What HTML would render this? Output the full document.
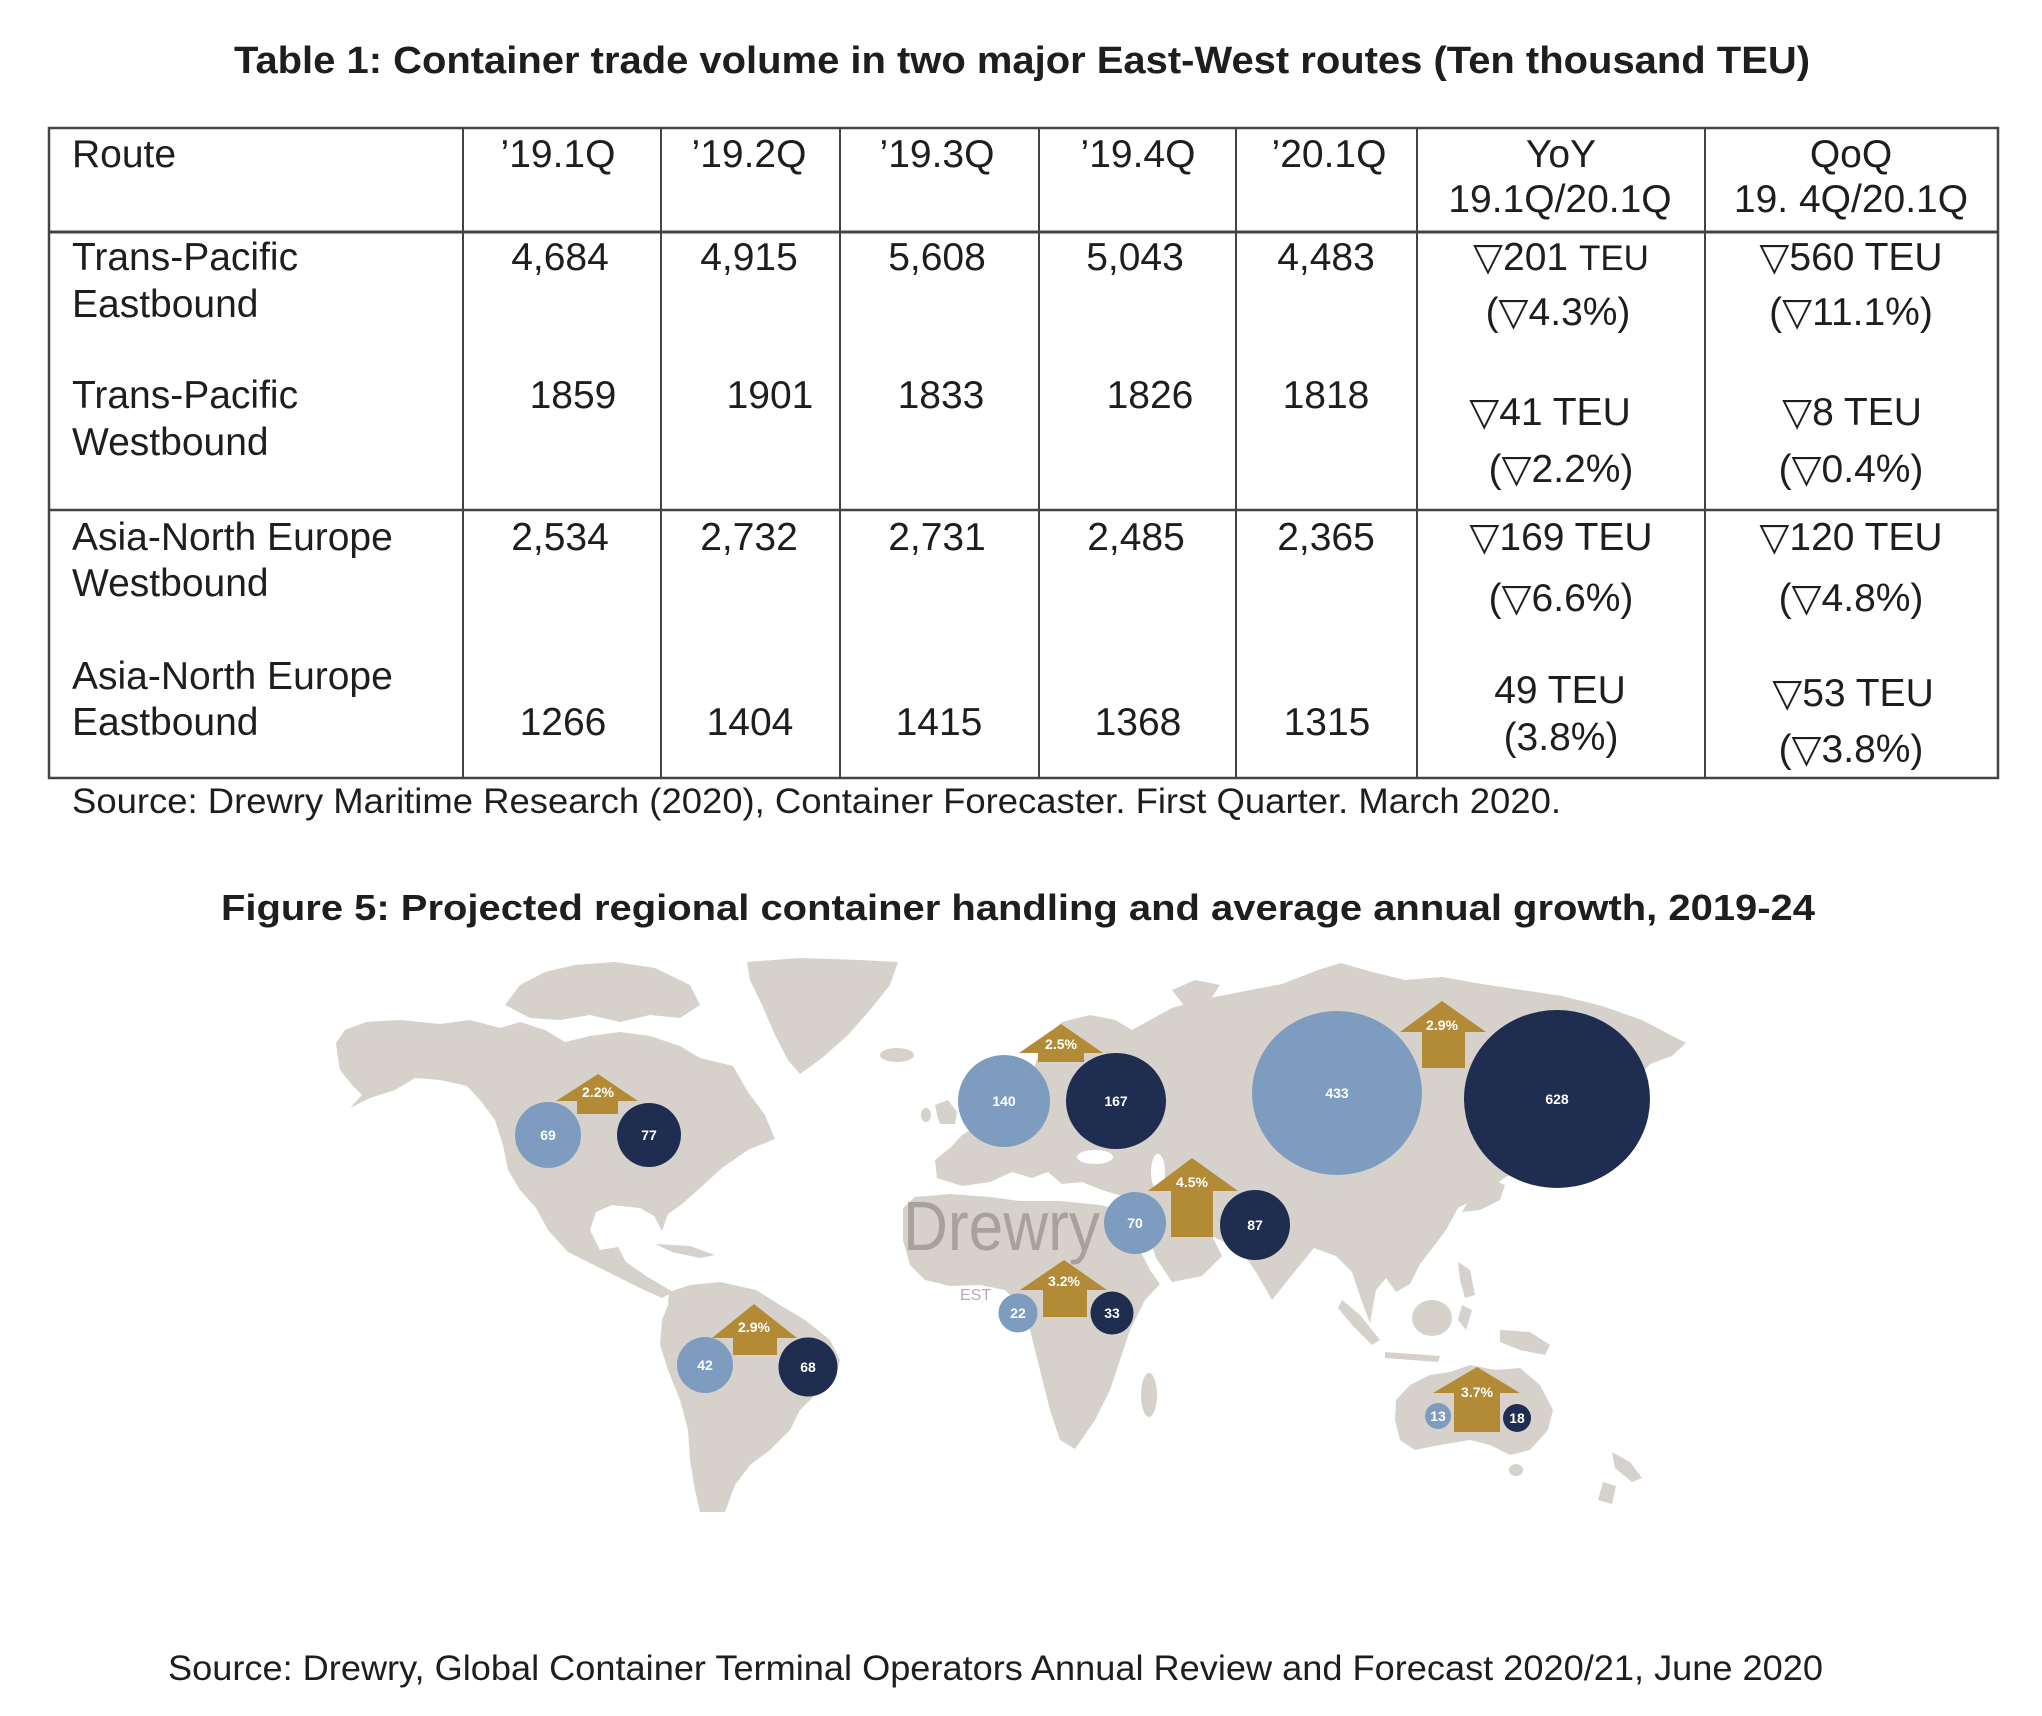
<!DOCTYPE html>
<html>
<head>
<meta charset="utf-8">
<style>
html,body{margin:0;padding:0;background:#fff;}
svg{display:block;}
.t{font-family:"Liberation Sans","DejaVu Sans",sans-serif;fill:#1e1e1e;}
.b{font-weight:bold;}
.c{text-anchor:middle;}
.tab{font-size:39px;}
.lbl{font-family:"Liberation Sans","DejaVu Sans",sans-serif;font-weight:bold;font-size:14px;fill:#fff;text-anchor:middle;}
</style>
</head>
<body>
<svg width="2042" height="1716" viewBox="0 0 2042 1716" xmlns="http://www.w3.org/2000/svg">
<rect width="2042" height="1716" fill="#fff"/>

<!-- Title -->
<text class="t b" x="234" y="73" font-size="38" textLength="1576" lengthAdjust="spacingAndGlyphs">Table 1: Container trade volume in two major East-West routes (Ten thousand TEU)</text>

<!-- Table lines -->
<g stroke="#444" fill="none">
<rect x="49" y="128" width="1949" height="650" stroke-width="2.5"/>
<line x1="49" y1="232" x2="1998" y2="232" stroke-width="3"/>
<line x1="49" y1="510" x2="1998" y2="510" stroke-width="2.5"/>
<g stroke-width="2">
<line x1="463" y1="128" x2="463" y2="778"/>
<line x1="661" y1="128" x2="661" y2="778"/>
<line x1="840" y1="128" x2="840" y2="778"/>
<line x1="1039" y1="128" x2="1039" y2="778"/>
<line x1="1236" y1="128" x2="1236" y2="778"/>
<line x1="1417" y1="128" x2="1417" y2="778"/>
<line x1="1705" y1="128" x2="1705" y2="778"/>
</g>
</g>

<g class="t tab">
<!-- header -->
<text x="72" y="167">Route</text>
<text class="c" x="558" y="167">’19.1Q</text>
<text class="c" x="749" y="167">’19.2Q</text>
<text class="c" x="937" y="167">’19.3Q</text>
<text class="c" x="1138" y="167">’19.4Q</text>
<text class="c" x="1329" y="167">’20.1Q</text>
<text class="c" x="1561" y="167">YoY</text>
<text class="c" x="1560" y="212">19.1Q/20.1Q</text>
<text class="c" x="1851" y="167">QoQ</text>
<text class="c" x="1851" y="212">19. 4Q/20.1Q</text>

<!-- row 1a -->
<text x="72" y="270">Trans-Pacific</text>
<text x="72" y="317">Eastbound</text>
<text class="c" x="560" y="270">4,684</text>
<text class="c" x="749" y="270">4,915</text>
<text class="c" x="937" y="270">5,608</text>
<text class="c" x="1135" y="270">5,043</text>
<text class="c" x="1326" y="270">4,483</text>
<text class="c" x="1561" y="270">▽201 <tspan font-size="35">TEU</tspan></text>
<text class="c" x="1558" y="325">(▽4.3%)</text>
<text class="c" x="1851" y="270">▽560 TEU</text>
<text class="c" x="1851" y="325">(▽11.1%)</text>

<!-- row 1b -->
<text x="72" y="408">Trans-Pacific</text>
<text x="72" y="455">Westbound</text>
<text class="c" x="573" y="408">1859</text>
<text class="c" x="770" y="408">1901</text>
<text class="c" x="941" y="408">1833</text>
<text class="c" x="1150" y="408">1826</text>
<text class="c" x="1326" y="408">1818</text>
<text class="c" x="1550" y="425">▽41 TEU</text>
<text class="c" x="1561" y="482">(▽2.2%)</text>
<text class="c" x="1852" y="425">▽8 TEU</text>
<text class="c" x="1851" y="482">(▽0.4%)</text>

<!-- row 2a -->
<text x="72" y="550">Asia-North Europe</text>
<text x="72" y="596">Westbound</text>
<text class="c" x="560" y="550">2,534</text>
<text class="c" x="749" y="550">2,732</text>
<text class="c" x="937" y="550">2,731</text>
<text class="c" x="1136" y="550">2,485</text>
<text class="c" x="1326" y="550">2,365</text>
<text class="c" x="1561" y="550">▽169 TEU</text>
<text class="c" x="1561" y="611">(▽6.6%)</text>
<text class="c" x="1851" y="550">▽120 TEU</text>
<text class="c" x="1851" y="611">(▽4.8%)</text>

<!-- row 2b -->
<text x="72" y="689">Asia-North Europe</text>
<text x="72" y="735">Eastbound</text>
<text class="c" x="563" y="735">1266</text>
<text class="c" x="750" y="735">1404</text>
<text class="c" x="939" y="735">1415</text>
<text class="c" x="1138" y="735">1368</text>
<text class="c" x="1327" y="735">1315</text>
<text class="c" x="1560" y="703">49 TEU</text>
<text class="c" x="1561" y="750">(3.8%)</text>
<text class="c" x="1853" y="706">▽53 TEU</text>
<text class="c" x="1851" y="762">(▽3.8%)</text>
</g>

<text class="t" x="72" y="813" font-size="35" textLength="1489" lengthAdjust="spacingAndGlyphs">Source:  Drewry Maritime Research (2020), Container Forecaster.  First Quarter. March 2020.</text>

<text class="t b" x="221" y="920" font-size="36" textLength="1594" lengthAdjust="spacingAndGlyphs">Figure 5: Projected regional container handling and average annual growth, 2019-24</text>

<!-- MAP -->
<g fill="#d6d1ca">
<path d="M336,1043 L345,1030 L366,1022 L400,1020 L440,1024 L470,1020 L500,1028 L520,1022 L545,1030 L565,1042 L590,1036 L620,1032 L650,1036 L680,1046 L700,1058 L733,1066 L748,1092 L765,1115 L775,1139 L748,1150 L722,1168 L700,1188 L682,1204 L668,1214 L662,1231 L654,1216 L640,1208 L612,1205 L596,1212 L590,1230 L600,1250 L618,1247 L626,1262 L646,1276 L673,1292 L662,1298 L640,1288 L600,1268 L568,1252 L548,1230 L536,1208 L520,1190 L508,1170 L503,1145 L495,1120 L480,1100 L467,1086 L440,1080 L415,1078 L395,1090 L370,1098 L350,1108 L362,1095 L352,1085 L340,1070 L338,1058 Z"/>
<path d="M505,1005 L520,985 L545,972 L575,965 L615,962 L655,968 L690,985 L700,1005 L680,1018 L650,1015 L620,1022 L590,1015 L560,1020 L530,1018 Z"/>
<path d="M747,962 L800,958 L860,960 L898,962 L890,985 L870,1010 L848,1035 L822,1058 L800,1074 L788,1060 L775,1035 L762,1005 L750,980 Z"/>
<path d="M655,1244 L690,1246 L715,1255 L700,1258 L672,1252 Z"/>
<path d="M669,1292 L690,1285 L720,1282 L756,1290 L780,1305 L805,1320 L830,1340 L840,1360 L835,1380 L815,1395 L800,1410 L790,1430 L770,1450 L750,1465 L735,1485 L725,1512 L700,1512 L695,1490 L690,1460 L688,1430 L680,1400 L668,1370 L660,1345 L662,1320 L668,1305 Z"/>
<ellipse cx="897" cy="1055" rx="17" ry="7"/>
<path d="M935,1105 L948,1100 L957,1112 L955,1124 L940,1124 L937,1115 Z"/>
<ellipse cx="926" cy="1115" rx="5" ry="7"/>
<path d="M937,1178 L935,1160 L950,1148 L962,1135 L978,1125 L995,1112 L1012,1100 L1028,1085 L1036,1062 L1045,1038 L1062,1022 L1090,1015 L1115,1020 L1132,1030 L1150,1020 L1172,1008 L1200,1000 L1240,992 L1282,984 L1318,970 L1341,963 L1372,972 L1405,980 L1442,977 L1482,984 L1522,990 L1562,996 L1602,1006 L1642,1020 L1686,1043 L1672,1056 L1650,1064 L1636,1080 L1622,1108 L1608,1100 L1592,1120 L1562,1150 L1530,1165 L1504,1178 L1482,1195 L1458,1208 L1446,1230 L1434,1246 L1420,1264 L1410,1284 L1396,1292 L1386,1278 L1376,1290 L1370,1323 L1362,1302 L1352,1272 L1336,1256 L1314,1248 L1296,1270 L1272,1300 L1256,1272 L1242,1252 L1228,1244 L1212,1236 L1222,1256 L1202,1276 L1172,1282 L1156,1258 L1146,1228 L1136,1206 L1122,1196 L1102,1190 L1082,1182 L1062,1184 L1048,1172 L1032,1178 L1012,1172 L990,1182 L962,1186 Z"/>
<path d="M1172,990 L1195,980 L1220,985 L1210,1000 L1185,1007 Z"/>
<path d="M1490,1178 L1505,1185 L1500,1200 L1480,1210 L1462,1212 L1470,1198 Z"/>
<path d="M1342,1300 L1360,1315 L1380,1340 L1372,1345 L1352,1325 L1338,1308 Z"/>
<ellipse cx="1432" cy="1318" rx="20" ry="18"/>
<path d="M1385,1352 L1440,1356 L1438,1362 L1385,1358 Z"/>
<path d="M1462,1305 L1472,1310 L1466,1330 L1458,1320 Z"/>
<path d="M1458,1262 L1470,1270 L1475,1295 L1465,1298 L1460,1280 Z"/>
<path d="M1500,1330 L1530,1332 L1550,1345 L1545,1355 L1520,1350 L1500,1342 Z"/>
<path d="M903,1208 L915,1197 L950,1194 L990,1197 L1020,1201 L1060,1201 L1100,1205 L1120,1210 L1135,1240 L1150,1270 L1160,1284 L1145,1300 L1130,1330 L1120,1360 L1110,1390 L1095,1420 L1075,1449 L1060,1440 L1050,1410 L1040,1370 L1030,1330 L1020,1305 L1005,1290 L980,1285 L950,1286 L925,1280 L910,1265 L903,1240 Z"/>
<ellipse cx="1149" cy="1395" rx="8" ry="22"/>
<path d="M1396,1400 L1410,1385 L1430,1375 L1450,1372 L1470,1365 L1495,1370 L1520,1368 L1540,1385 L1553,1410 L1548,1430 L1530,1450 L1510,1455 L1490,1445 L1470,1440 L1440,1445 L1415,1450 L1400,1440 L1395,1420 Z"/>
<ellipse cx="1516" cy="1470" rx="7" ry="6"/>
<path d="M1612,1452 L1630,1462 L1642,1478 L1632,1482 L1615,1468 Z"/>
<path d="M1603,1482 L1616,1486 L1612,1504 L1598,1500 Z"/>
</g>
<ellipse cx="1095" cy="1157" rx="18" ry="7" fill="#fff"/>
<ellipse cx="1158" cy="1172" rx="7" ry="18" fill="#fff"/>

<text x="903" y="1250" font-family="Liberation Sans, DejaVu Sans, sans-serif" font-size="70" fill="#a8a29c" textLength="197" lengthAdjust="spacingAndGlyphs">Drewry</text>
<text x="960" y="1300" font-family="Liberation Sans, DejaVu Sans, sans-serif" font-size="16" fill="#b4aea8">EST</text>

<g fill="#b38b36">
<path d="M598,1074 L638,1101 L618,1101 L618,1114 L577,1114 L577,1101 L556,1101 Z"/>
<path d="M754,1304 L797,1338 L777,1338 L777,1355 L733,1355 L733,1338 L712,1338 Z"/>
<path d="M1061,1024 L1103,1053 L1084,1053 L1084,1062 L1038,1062 L1038,1053 L1019,1053 Z"/>
<path d="M1442,1001 L1486,1032 L1465,1032 L1465,1068 L1422,1068 L1422,1032 L1400,1032 Z"/>
<path d="M1192,1158 L1238,1191 L1213,1191 L1213,1237 L1171,1237 L1171,1191 L1148,1191 Z"/>
<path d="M1064,1260 L1107,1290 L1087,1290 L1087,1317 L1043,1317 L1043,1290 L1020,1290 Z"/>
<path d="M1477,1367 L1520,1393 L1500,1393 L1500,1432 L1454,1432 L1454,1393 L1433,1393 Z"/>
</g>
<g>
<text class="lbl" x="598" y="1097" font-size="12.5">2.2%</text>
<text class="lbl" x="754" y="1332" font-size="12.5">2.9%</text>
<text class="lbl" x="1061" y="1049" font-size="12.5">2.5%</text>
<text class="lbl" x="1442" y="1030" font-size="12.5">2.9%</text>
<text class="lbl" x="1192" y="1187" font-size="12.5">4.5%</text>
<text class="lbl" x="1064" y="1286" font-size="12.5">3.2%</text>
<text class="lbl" x="1477" y="1397" font-size="12.5">3.7%</text>
</g>

<g fill="#7d9cc0">
<circle cx="548" cy="1135" r="33"/>
<circle cx="705" cy="1365" r="28"/>
<circle cx="1004" cy="1101" r="46"/>
<ellipse cx="1337" cy="1093" rx="85" ry="82"/>
<circle cx="1135" cy="1223" r="31"/>
<circle cx="1018" cy="1313" r="19.5"/>
<circle cx="1438" cy="1416" r="13"/>
</g>
<g fill="#1f2d51">
<circle cx="649" cy="1135" r="32"/>
<circle cx="808" cy="1367" r="29.5"/>
<ellipse cx="1116" cy="1101" rx="50" ry="48"/>
<ellipse cx="1557" cy="1099" rx="93" ry="89"/>
<circle cx="1255" cy="1225" r="35"/>
<circle cx="1112" cy="1313" r="21.5"/>
<circle cx="1517" cy="1418" r="14"/>
</g>
<g>
<text class="lbl" x="548" y="1140">69</text>
<text class="lbl" x="705" y="1370">42</text>
<text class="lbl" x="1004" y="1106">140</text>
<text class="lbl" x="1337" y="1098">433</text>
<text class="lbl" x="1135" y="1228">70</text>
<text class="lbl" x="1018" y="1318">22</text>
<text class="lbl" x="1438" y="1421" font-size="12">13</text>
<text class="lbl" x="649" y="1140">77</text>
<text class="lbl" x="808" y="1372">68</text>
<text class="lbl" x="1116" y="1106">167</text>
<text class="lbl" x="1557" y="1104">628</text>
<text class="lbl" x="1255" y="1230">87</text>
<text class="lbl" x="1112" y="1318">33</text>
<text class="lbl" x="1517" y="1423" font-size="12">18</text>
</g>

<text class="t" x="168" y="1680" font-size="35" textLength="1655" lengthAdjust="spacingAndGlyphs">Source: Drewry, Global Container Terminal Operators Annual Review and Forecast 2020/21, June 2020</text>
</svg>
</body>
</html>
